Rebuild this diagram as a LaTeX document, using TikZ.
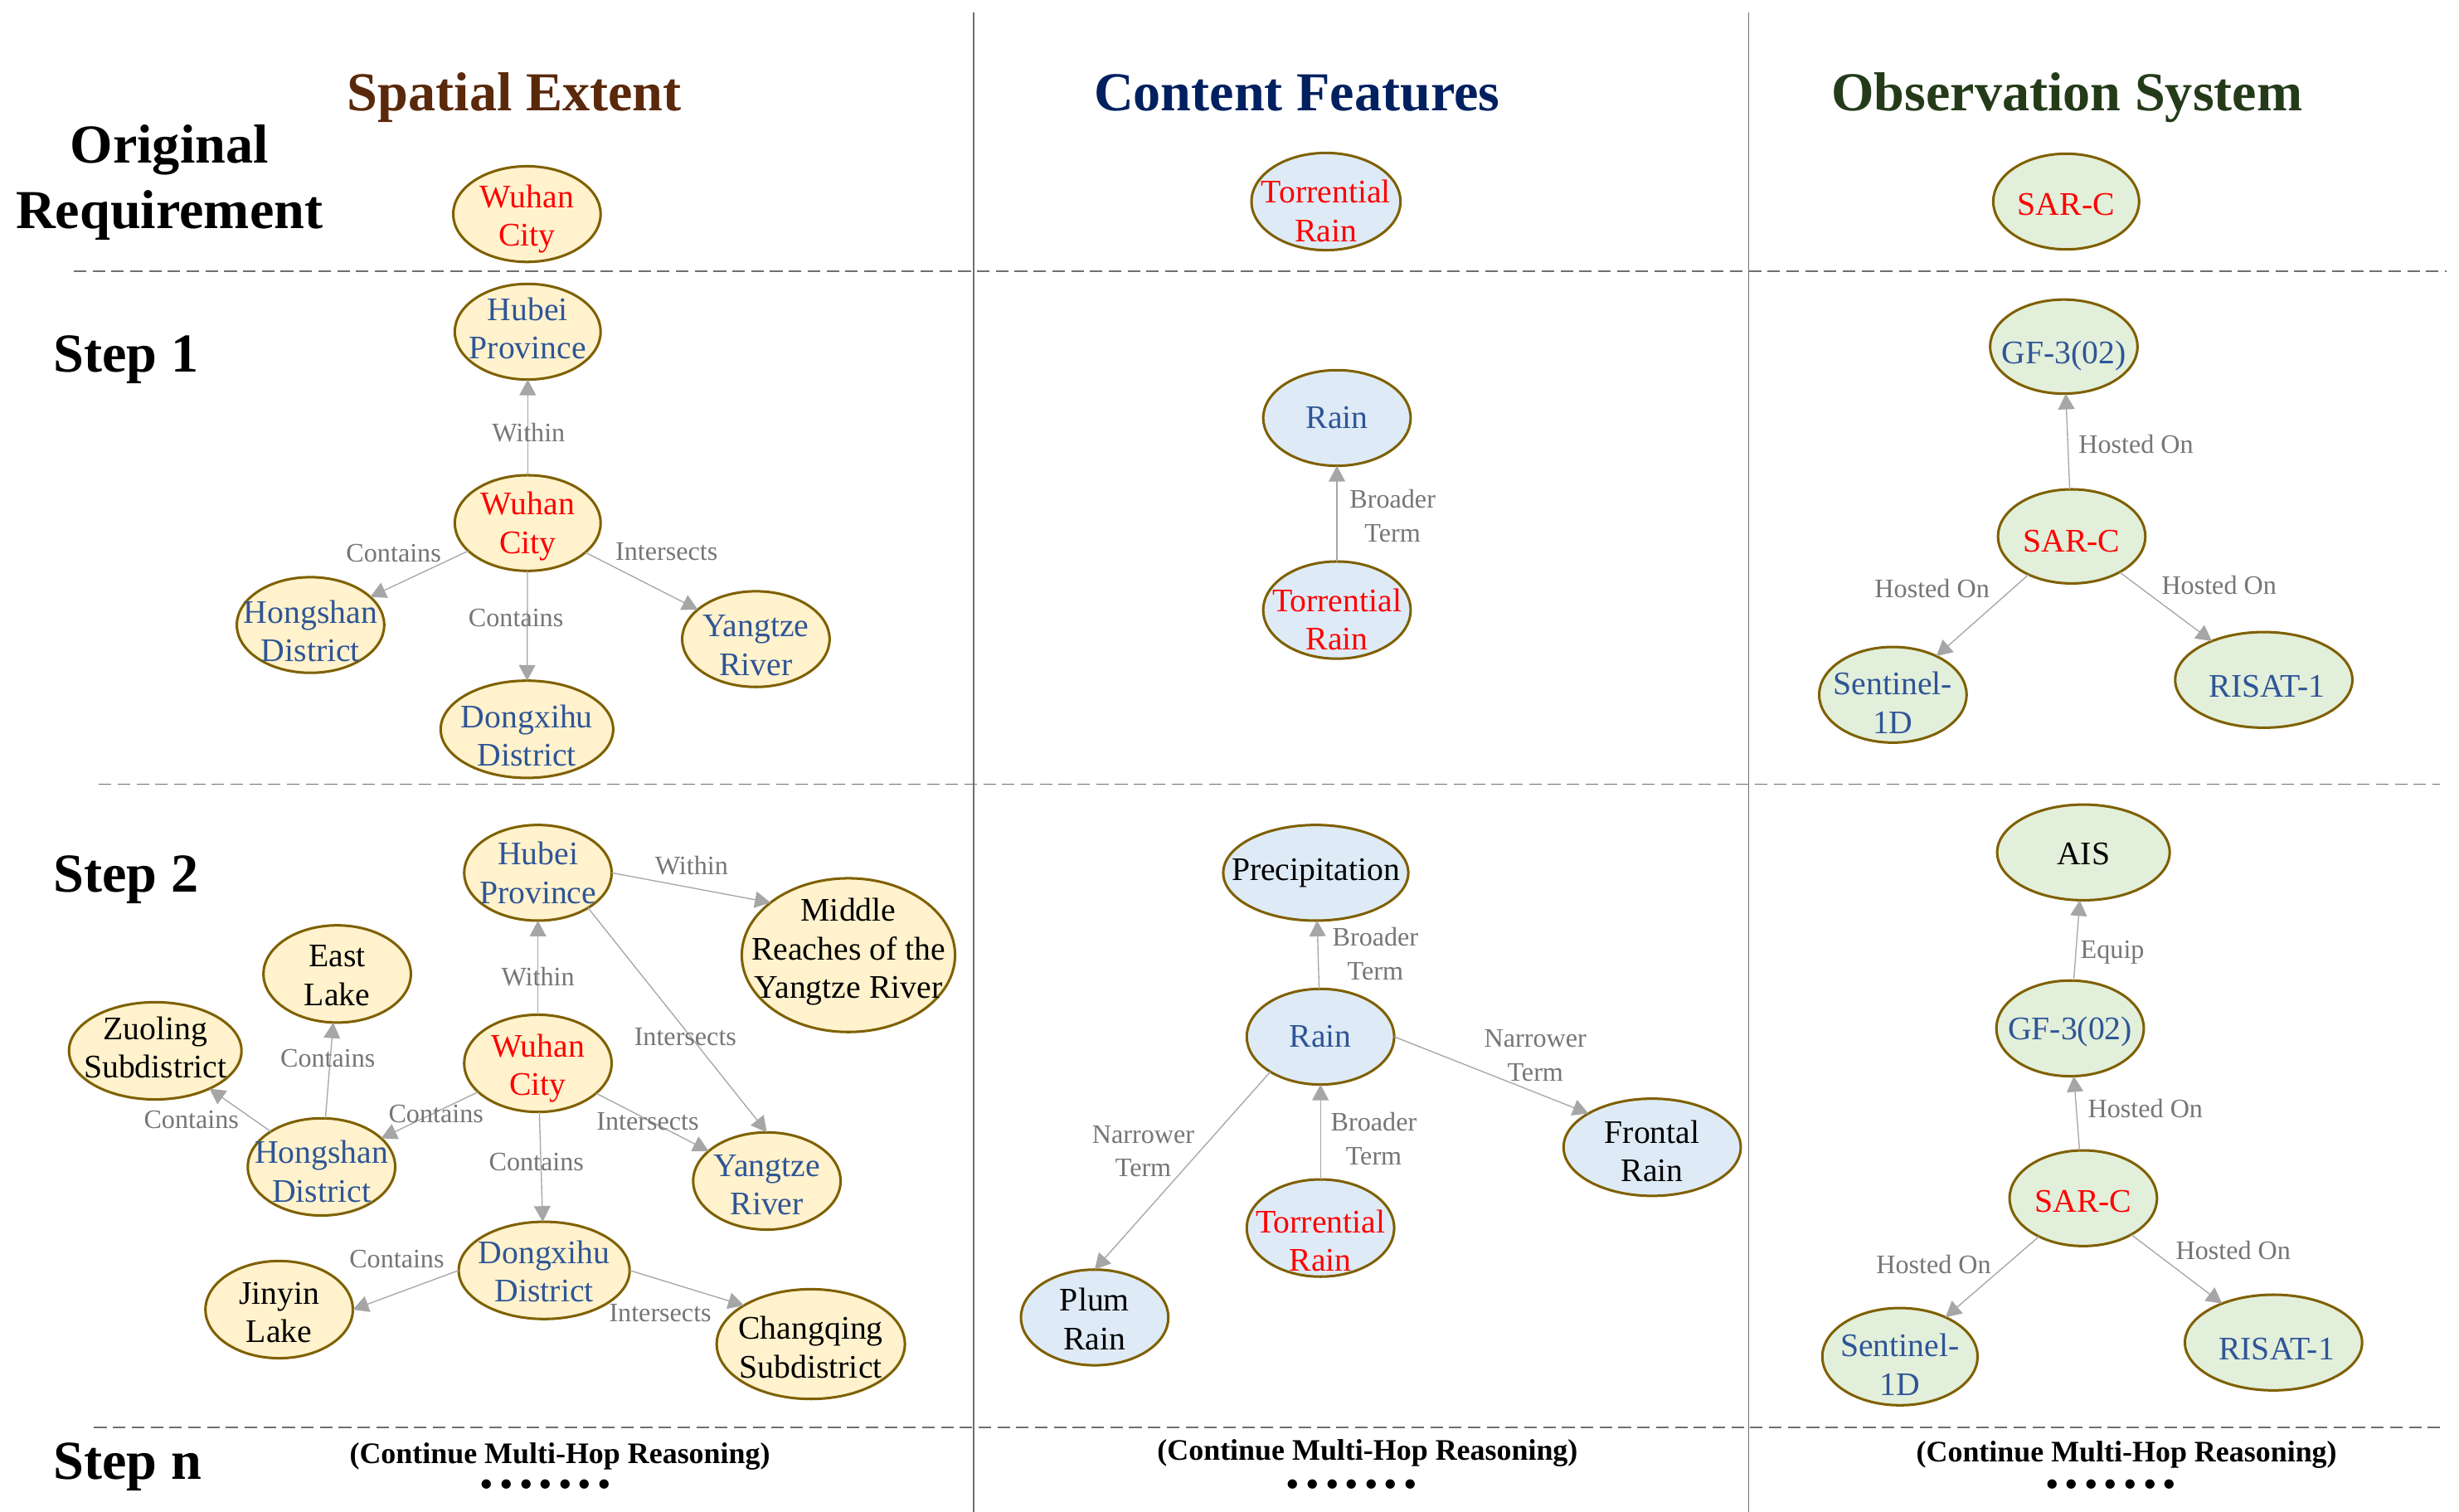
\documentclass[tikz,border=0pt]{standalone}
\usepackage{fontspec}
\setmainfont{Liberation Serif}
\usetikzlibrary{shapes.geometric,arrows.meta}
\definecolor{nbrd}{HTML}{7F6000}
\definecolor{spf}{HTML}{FFF2CC}
\definecolor{ctf}{HTML}{DEEBF7}
\definecolor{obf}{HTML}{E2EFDA}
\definecolor{tblu}{HTML}{2F5597}
\definecolor{tred}{HTML}{FF0000}
\definecolor{lgray}{HTML}{767676}
\definecolor{egray}{HTML}{A6A6A6}
\definecolor{sepgray}{HTML}{6F6F6F}
\definecolor{tbrown}{HTML}{5A280A}
\definecolor{tnavy}{HTML}{002060}
\definecolor{tgreen}{HTML}{243B19}
\newcommand\Ent[7]{\node[#1,minimum width=#5pt,minimum height=#6pt,label={[nt,#7]center:#4}] (#2) at (#3) {};}
\newcommand\dotrow{•\hspace{4.8pt}•\hspace{4.8pt}•\hspace{4.8pt}•\hspace{4.8pt}•\hspace{4.8pt}•\hspace{4.8pt}•}
\tikzset{
  ent/.style={ellipse, draw=nbrd, line width=1.6pt, inner sep=0pt, outer sep=0pt},
  sp/.style={ent, fill=spf},
  ct/.style={ent, fill=ctf},
  ob/.style={ent, fill=obf},
  nt/.style={align=center, inner sep=0pt, font=\fontsize{21}{24.5}\selectfont},
  rel/.style={draw=egray, line width=0.7pt, -{Triangle[length=10pt,width=10.5pt]}},
  lbl/.style={align=center, inner sep=0pt, text=lgray, font=\fontsize{17}{21.5}\selectfont},
  hd/.style={anchor=base, inner sep=0pt, font=\fontsize{35}{42}\selectfont\bfseries},
  cont/.style={anchor=base, inner sep=0pt, font=\fontsize{19}{23}\selectfont\bfseries},
  dotsrow/.style={inner sep=0pt, font=\fontsize{22}{26}\selectfont\bfseries},
  sep/.style={draw=sepgray, line width=0.9pt},
  dsep/.style={draw=sepgray, line width=0.8pt, dash pattern=on 8pt off 4pt}
}
\begin{document}
\begin{tikzpicture}[x=1pt,y=-1pt]
\useasboundingbox[fill=white] (0,0) rectangle (1568,964);
% separators
\draw[sep] (621,8) -- (621,964);
\draw[sep] (1115,8) -- (1115,964);
\draw[dsep] (47,173) -- (1560,173);
\draw[dsep] (63,500) -- (1556,500);
\draw[dsep] (60,910) -- (1556,910);
% headings
\node[hd, text=tbrown] (h1) at (328,70.5) {Spatial Extent};
\node[hd, text=tnavy] (h2) at (827,70.5) {Content Features};
\node[hd, text=tgreen] (h3) at (1318,70.5) {Observation System};
\node[hd] (r1) at (108,104) {Original};
\node[hd] (r2) at (108,145.5) {Requirement};
\node[hd, anchor=base west] (s1) at (34,237.3) {Step 1};
\node[hd, anchor=base west] (s2) at (34,569) {Step 2};
\node[hd, anchor=base west] (s3) at (34,943) {Step n};
% original requirement
\Ent{sp}{o1}{336,136.5}{Wuhan\\City}{94}{61}{text=tred,yshift=-3pt}
\Ent{ct}{o2}{845.5,128.5}{Torrential\\Rain}{95}{62}{text=tred,yshift=-6pt}
\Ent{ob}{o3}{1317.5,128.5}{SAR-C}{93}{61}{text=tred,yshift=-2pt}
% step 1 spatial
\Ent{sp}{a1}{336.5,211.5}{Hubei\\Province}{93}{61}{text=tblu,yshift=2pt}
\Ent{sp}{a2}{336.5,333.5}{Wuhan\\City}{93}{61}{text=tred,yshift=-2pt}
\Ent{sp}{a3}{198,398.5}{Hongshan\\District}{94}{61}{text=tblu,yshift=-4pt}
\Ent{sp}{a4}{336,465}{Dongxihu\\District}{110}{62}{text=tblu,yshift=-4pt}
\Ent{sp}{a5}{482,407.5}{Yangtze\\River}{94}{61}{text=tblu,yshift=-4pt}
\draw[rel] (a2) -- (a1);
\draw[rel] (a2) -- (a3);
\draw[rel] (a2) -- (a4);
\draw[rel] (a2) -- (a5);
\node[lbl] (la1) at (337,276) {Within};
\node[lbl] (la2) at (251,353) {Contains};
\node[lbl] (la3) at (329,394) {Contains};
\node[lbl] (la4) at (425,352) {Intersects};
% step 1 content
\Ent{ct}{b1}{852.5,266.5}{Rain}{94}{61}{text=tblu}
\Ent{ct}{b2}{852.5,389}{Torrential\\Rain}{94}{62}{text=tred,yshift=-6pt}
\draw[rel] (b2) -- (b1);
\node[lbl] (lb1) at (888,329) {Broader\\Term};
% step 1 observation
\Ent{ob}{c1}{1316,221}{GF-3(02)}{94}{60}{text=tblu,yshift=-6pt}
\Ent{ob}{c2}{1321,342}{SAR-C}{94}{60}{text=tred,yshift=-3pt}
\Ent{ob}{c3}{1207,443}{Sentinel-\\1D}{94}{61}{text=tblu,yshift=-5pt}
\Ent{ob}{c4}{1443.5,433.5}{RISAT-1}{113}{61}{text=tblu,yshift=-4pt,xshift=2pt}
\draw[rel] (c2) -- (c1);
\draw[rel] (c2) -- (c3);
\draw[rel] (c2) -- (c4);
\node[lbl] (lc1) at (1362,283) {Hosted On};
\node[lbl] (lc2) at (1232,375) {Hosted On};
\node[lbl] (lc3) at (1415,373) {Hosted On};
% step 2 spatial
\Ent{sp}{d1}{343,556.5}{Hubei\\Province}{94}{61}{text=tblu}
\Ent{sp}{d2}{541,609}{Middle\\Reaches of the\\Yangtze River}{136}{98}{text=black,yshift=2pt}
\Ent{sp}{d3}{215,621}{East\\Lake}{94}{62}{text=black,yshift=-1pt}
\Ent{sp}{d4}{99,670}{Zuoling\\Subdistrict}{110}{62}{text=black,yshift=2pt}
\Ent{sp}{d5}{343,678}{Wuhan\\City}{94}{62}{text=tred,yshift=-3pt}
\Ent{sp}{d6}{205,744}{Hongshan\\District}{94}{62}{text=tblu,yshift=-3pt}
\Ent{sp}{d7}{489,753}{Yangtze\\River}{94}{62}{text=tblu,yshift=-2.5pt}
\Ent{sp}{d8}{347,810}{Dongxihu\\District}{109}{62}{text=tblu,yshift=-0.5pt}
\Ent{sp}{d9}{178,835}{Jinyin\\Lake}{94}{62}{text=black,yshift=-2pt}
\Ent{sp}{d10}{517,857}{Changqing\\Subdistrict}{120}{70}{text=black,yshift=-2pt}
\draw[rel] (d1.east) -- (d2.146);
\draw[rel] (d1.-35) -- (d7.north);
\draw[rel] (d5) -- (d1);
\draw[rel] (d5) -- (d6);
\draw[rel] (d5) -- (d7);
\draw[rel] (d5) -- (d8);
\draw[rel] (d6) -- (d3);
\draw[rel] (d6) -- (d4);
\draw[rel] (d8.west) -- (d9.east);
\draw[rel] (d8.east) -- (d10.150);
\node[lbl] (ld1) at (441,552) {Within};
\node[lbl] (ld2) at (437,661) {Intersects};
\node[lbl] (ld3) at (343,623) {Within};
\node[lbl] (ld4) at (278,710) {Contains};
\node[lbl] (ld5) at (413,715) {Intersects};
\node[lbl] (ld6) at (342,741) {Contains};
\node[lbl] (ld7) at (209,675) {Contains};
\node[lbl] (ld8) at (122,714) {Contains};
\node[lbl] (ld9) at (253,803) {Contains};
\node[lbl] (ld10) at (421,837) {Intersects};
% step 2 content
\Ent{ct}{e1}{839,556.5}{Precipitation}{118}{61}{text=black}
\Ent{ct}{e2}{842,661}{Rain}{94}{61}{text=tblu}
\Ent{ct}{e3}{842,783}{Torrential\\Rain}{94}{62}{text=tred,yshift=-8pt}
\Ent{ct}{e4}{1053.5,731.5}{Frontal\\Rain}{113}{62}{text=black,yshift=-2.5pt}
\Ent{ct}{e5}{698,840}{Plum\\Rain}{94}{61}{text=black,yshift=-1pt}
\draw[rel] (e2) -- (e1);
\draw[rel] (e2.east) -- (e4.152);
\draw[rel] (e2.215) -- (e5.north);
\draw[rel] (e3) -- (e2);
\node[lbl] (le1) at (877,608) {Broader\\Term};
\node[lbl] (le2) at (979,673) {Narrower\\Term};
\node[lbl] (le3) at (729,734) {Narrower\\Term};
\node[lbl] (le4) at (876,726) {Broader\\Term};
% step 2 observation
\Ent{ob}{f1}{1328.5,543.5}{AIS}{110}{61}{text=black,yshift=-1pt}
\Ent{ob}{f2}{1320,655.7}{GF-3(02)}{94}{61}{text=tblu,yshift=-2pt}
\Ent{ob}{f3}{1328.4,764}{SAR-C}{94}{61}{text=tred,yshift=-2pt}
\Ent{ob}{f4}{1211.5,865}{Sentinel-\\1D}{99}{62}{text=tblu,yshift=-5pt}
\Ent{ob}{f5}{1449.7,856}{RISAT-1}{113}{61}{text=tblu,yshift=-4pt,xshift=2pt}
\draw[rel] (f2) -- (f1);
\draw[rel] (f3) -- (f2);
\draw[rel] (f3) -- (f4);
\draw[rel] (f3) -- (f5);
\node[lbl] (lf1) at (1347,607) {Equip};
\node[lbl] (lf2) at (1368,707) {Hosted On};
\node[lbl] (lf3) at (1233,806) {Hosted On};
\node[lbl] (lf4) at (1424,797) {Hosted On};
% step n
\node[cont] (n1) at (357,933) {(Continue Multi-Hop Reasoning)};
\node[cont] (n2) at (872,931) {(Continue Multi-Hop Reasoning)};
\node[cont] (n3) at (1356,932) {(Continue Multi-Hop Reasoning)};
\node[dotsrow] (m1) at (348,948.5) {\dotrow};
\node[dotsrow] (m2) at (862,948.5) {\dotrow};
\node[dotsrow] (m3) at (1346,948.5) {\dotrow};
\end{tikzpicture}
\end{document}
